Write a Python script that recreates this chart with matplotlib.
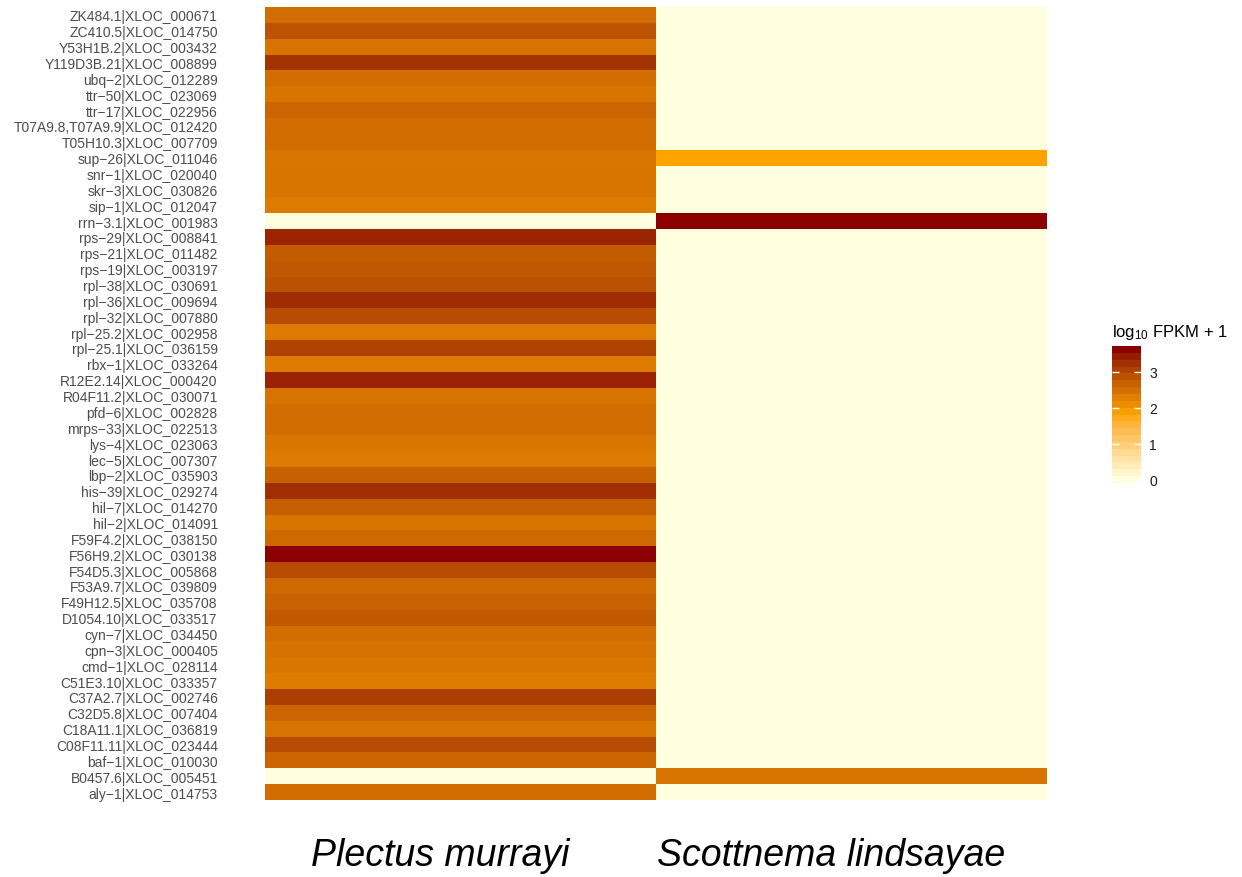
import numpy as np
import matplotlib
matplotlib.use('Agg')
import matplotlib.pyplot as plt
from matplotlib.colors import ListedColormap, Normalize, to_rgb
from matplotlib.transforms import ScaledTranslation

plt.rcParams['font.family'] = ['Liberation Sans', 'DejaVu Sans']
plt.rcParams['mathtext.fontset'] = 'custom'
plt.rcParams['mathtext.rm'] = 'Liberation Sans'
plt.rcParams['mathtext.it'] = 'Liberation Sans:italic'

# genes, top to bottom
genes = ['ZK484.1|XLOC_000671', 'ZC410.5|XLOC_014750', 'Y53H1B.2|XLOC_003432',
         'Y119D3B.21|XLOC_008899', 'ubq\u22122|XLOC_012289', 'ttr\u221250|XLOC_023069',
         'ttr\u221217|XLOC_022956', 'T07A9.8,T07A9.9|XLOC_012420', 'T05H10.3|XLOC_007709',
         'sup\u221226|XLOC_011046', 'snr\u22121|XLOC_020040', 'skr\u22123|XLOC_030826',
         'sip\u22121|XLOC_012047', 'rrn\u22123.1|XLOC_001983', 'rps\u221229|XLOC_008841',
         'rps\u221221|XLOC_011482', 'rps\u221219|XLOC_003197', 'rpl\u221238|XLOC_030691',
         'rpl\u221236|XLOC_009694', 'rpl\u221232|XLOC_007880', 'rpl\u221225.2|XLOC_002958',
         'rpl\u221225.1|XLOC_036159', 'rbx\u22121|XLOC_033264', 'R12E2.14|XLOC_000420',
         'R04F11.2|XLOC_030071', 'pfd\u22126|XLOC_002828', 'mrps\u221233|XLOC_022513',
         'lys\u22124|XLOC_023063', 'lec\u22125|XLOC_007307', 'lbp\u22122|XLOC_035903',
         'his\u221239|XLOC_029274', 'hil\u22127|XLOC_014270', 'hil\u22122|XLOC_014091',
         'F59F4.2|XLOC_038150', 'F56H9.2|XLOC_030138', 'F54D5.3|XLOC_005868',
         'F53A9.7|XLOC_039809', 'F49H12.5|XLOC_035708', 'D1054.10|XLOC_033517',
         'cyn\u22127|XLOC_034450', 'cpn\u22123|XLOC_000405', 'cmd\u22121|XLOC_028114',
         'C51E3.10|XLOC_033357', 'C37A2.7|XLOC_002746', 'C32D5.8|XLOC_007404',
         'C18A11.1|XLOC_036819', 'C08F11.11|XLOC_023444', 'baf\u22121|XLOC_010030',
         'B0457.6|XLOC_005451', 'aly\u22121|XLOC_014753']

species = ['Plectus murrayi', 'Scottnema lindsayae']

# log10 FPKM + 1
plectus = [2.51, 2.84, 2.43, 3.22, 2.51, 2.41, 2.62, 2.51, 2.53, 2.39,
           2.41, 2.41, 2.34, 0.00, 3.36, 2.73, 2.79, 2.87, 3.29, 2.92,
           2.36, 3.03, 2.33, 3.38, 2.43, 2.51, 2.51, 2.39, 2.36, 2.68,
           3.28, 2.70, 2.41, 2.56, 3.62, 2.92, 2.56, 2.66, 2.77, 2.51,
           2.45, 2.39, 2.33, 3.09, 2.63, 2.43, 2.92, 2.63, 0.00, 2.51]
scottnema = [0.00, 0.00, 0.00, 0.00, 0.00, 0.00, 0.00, 0.00, 0.00, 1.83,
             0.00, 0.00, 0.00, 3.62, 0.00, 0.00, 0.00, 0.00, 0.00, 0.00,
             0.00, 0.00, 0.00, 0.00, 0.00, 0.00, 0.00, 0.00, 0.00, 0.00,
             0.00, 0.00, 0.00, 0.00, 0.00, 0.00, 0.00, 0.00, 0.00, 0.00,
             0.00, 0.00, 0.00, 0.00, 0.00, 0.00, 0.00, 0.00, 2.44, 0.00]

cb_ticks = [0, 1, 2, 3]


# gradient lightyellow -> orange -> darkred, interpolated in CIELAB
def rgb2lab(c):
    c = np.asarray(c, dtype=float)
    lin = np.where(c > 0.04045, ((c + 0.055) / 1.055) ** 2.4, c / 12.92)
    M = np.array([[0.4124, 0.3576, 0.1805],
                  [0.2126, 0.7152, 0.0722],
                  [0.0193, 0.1192, 0.9505]])
    xyz = M @ lin / np.array([0.95047, 1.0, 1.08883])
    f = np.where(xyz > 0.008856, np.cbrt(xyz), 7.787 * xyz + 16 / 116)
    return np.array([116 * f[1] - 16, 500 * (f[0] - f[1]), 200 * (f[1] - f[2])])


def lab2rgb(lab):
    L, a, b = lab
    fy = (L + 16) / 116
    fx = fy + a / 500
    fz = fy - b / 200
    f = np.array([fx, fy, fz])
    xyz = np.where(f ** 3 > 0.008856, f ** 3, (f - 16 / 116) / 7.787)
    xyz = xyz * np.array([0.95047, 1.0, 1.08883])
    Minv = np.array([[3.2406, -1.5372, -0.4986],
                     [-0.9689, 1.8758, 0.0415],
                     [0.0557, -0.2040, 1.0570]])
    lin = Minv @ xyz
    c = np.where(lin > 0.0031308, 1.055 * np.clip(lin, 0, None) ** (1 / 2.4) - 0.055, 12.92 * lin)
    return np.clip(c, 0, 1)


anchors = [rgb2lab(to_rgb(c)) for c in ['#FFFFE0', '#FFA500', '#8B0000']]
cols = []
for t in np.linspace(0, 1, 256):
    if t <= 0.5:
        s = t / 0.5
        lab = anchors[0] + s * (anchors[1] - anchors[0])
    else:
        s = (t - 0.5) / 0.5
        lab = anchors[1] + s * (anchors[2] - anchors[1])
    cols.append(lab2rgb(lab))
cmap = ListedColormap(cols)

vmax = max(max(plectus), max(scottnema))
norm = Normalize(vmin=0, vmax=vmax)

Z = np.column_stack([plectus, scottnema])
n = len(genes)

fig = plt.figure(figsize=(12.42, 8.78), dpi=100)
ax = fig.add_axes([265 / 1242, 1 - 801 / 878, 782 / 1242, 793 / 878])
mesh = ax.pcolormesh(np.arange(3), np.arange(n + 1), Z, cmap=cmap, norm=norm)
ax.set_ylim(n, 0)
ax.set_xlim(0, 2)

ax.set_yticks(np.arange(n) + 0.5)
ax.set_yticklabels(genes, fontsize=10, color='#4D4D4D')
ax.set_xticks([0.5, 1.5])
ax.set_xticklabels(species, fontsize=27, style='italic', color='black')
ax.tick_params(axis='y', length=0, pad=34)
ax.tick_params(axis='x', length=0, pad=27)
for lbl in ax.get_xticklabels():
    lbl.set_transform(lbl.get_transform() + ScaledTranslation(-0.2, 0, fig.dpi_scale_trans))
for s in ax.spines.values():
    s.set_visible(False)

# binned legend bar like ggplot's colourbar
cax = fig.add_axes([1112 / 1242, 1 - 484 / 878, 29 / 1242, 137 / 878])
h = vmax / 38
cb = fig.colorbar(mesh, cax=cax, boundaries=np.linspace(-h, vmax + h, 21),
                  ticks=cb_ticks)
cb.outline.set_visible(False)
cax.tick_params(axis='y', which='both', direction='in', length=5, width=1,
                colors='white', left=True, right=True, labelsize=10, pad=6)
for t in cax.get_yticklabels():
    t.set_color('#1A1A1A')
cax.set_title(r'$\mathrm{log}_{10}$ FPKM + 1', loc='left', fontsize=12, pad=7)

fig.savefig('out.png', dpi=100, facecolor='white')
